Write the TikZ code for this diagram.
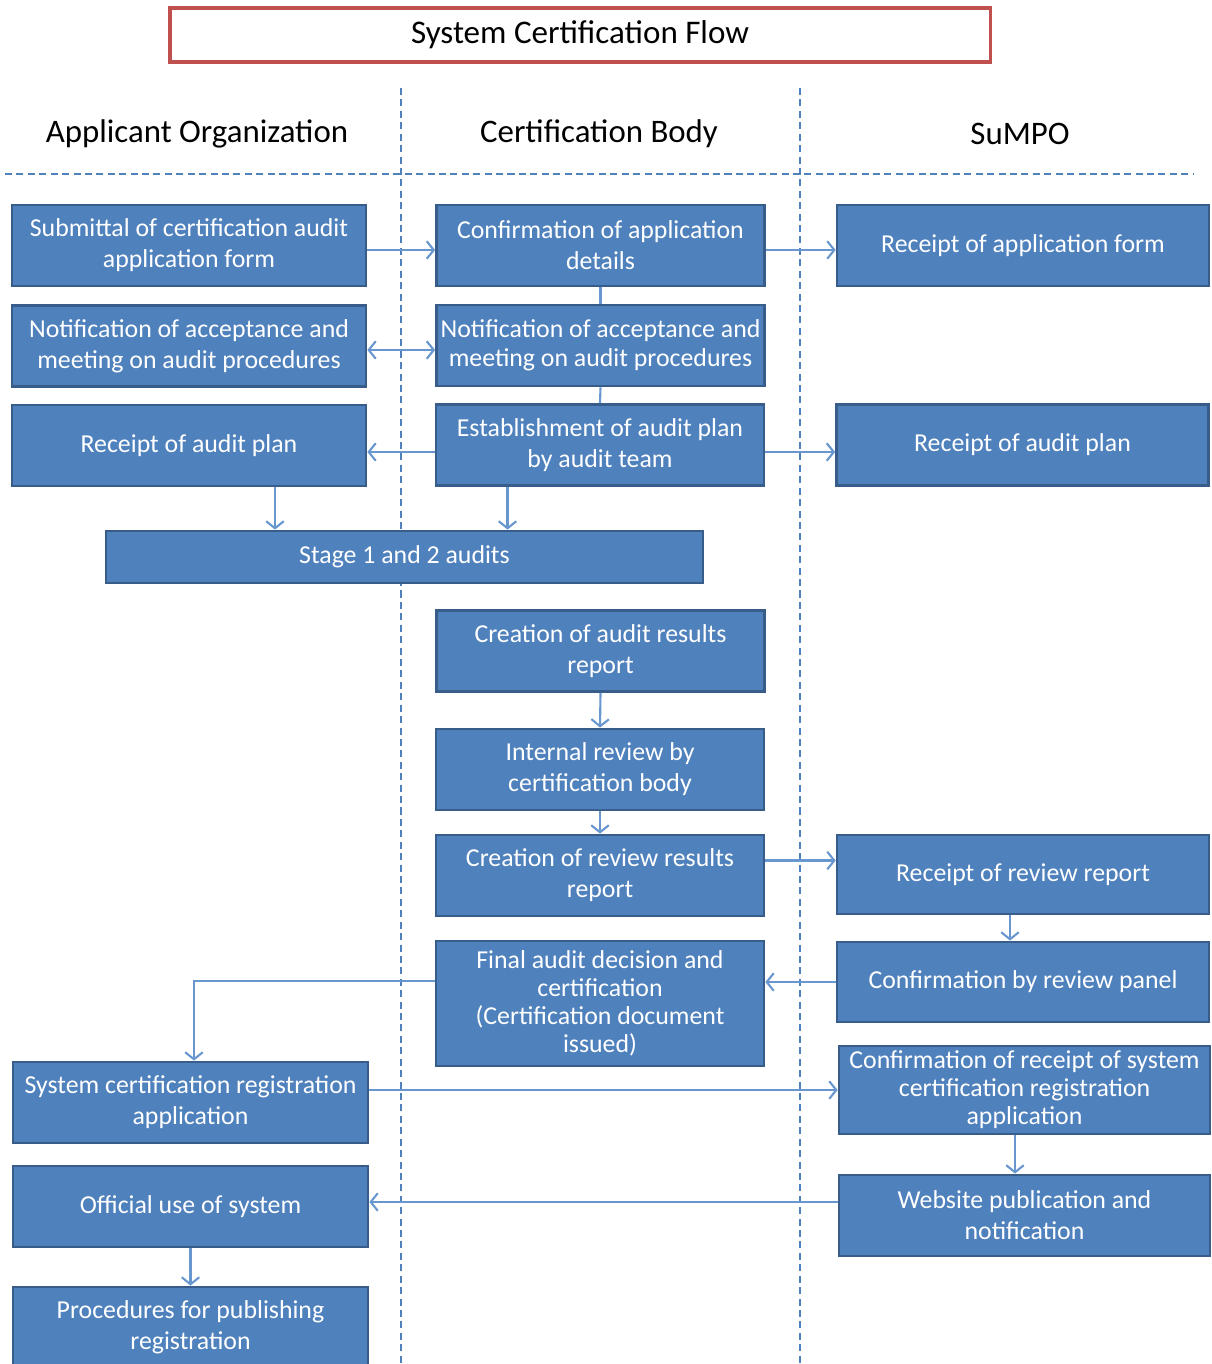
\documentclass[tikz,border=0pt]{standalone}
\usepackage{fontspec}
\setmainfont{Carlito}
\usetikzlibrary{arrows.meta}
\definecolor{boxblue}{RGB}{79,129,189}
\definecolor{boxedge}{RGB}{56,93,138}
\definecolor{linkblue}{RGB}{104,150,206}
\definecolor{titlered}{RGB}{192,80,77}
\begin{document}
\begin{tikzpicture}[x=0.02cm,y=-0.02cm,
    box/.style={draw=boxedge,fill=boxblue,line width=1.6pt,text=white,align=center,
        font=\fontsize{14.7}{17.6}\selectfont,inner sep=0pt,minimum height=1.62cm},
    tightbox/.style={box,font=\fontsize{14.7}{15.9}\selectfont},
    leftbox/.style={box,minimum width=7.08cm},
    midbox/.style={box,minimum width=6.56cm},
    rightbox/.style={box,minimum width=7.44cm},
    lane/.style={draw=boxblue,line width=1pt,dash pattern=on 4pt off 2.5pt},
    link/.style={draw=linkblue,line width=1.2pt,-{Straight Barb[length=4pt,width=10pt]}},
    twolink/.style={link,{Straight Barb[length=4pt,width=10pt]}-{Straight Barb[length=4pt,width=10pt]}},
    plain/.style={draw=linkblue,line width=1.2pt},
    lanehead/.style={font=\fontsize{18.7}{22}\selectfont}]
    \useasboundingbox (0,0) rectangle (1211,1364);
    % Title
    \node[draw=titlered,line width=2.2pt,minimum width=16.42cm,minimum height=1.08cm,
        font=\fontsize{18.8}{22}\selectfont] (title) at (580,35) {System Certification Flow};
    % Swimlanes
    \draw[lane] (401,88) -- (401,1364);
    \draw[lane] (800,88) -- (800,1364);
    \draw[lane] (5,174) -- (1193,174);
    \node[lanehead] (headorg) at (197,134) {Applicant Organization};
    \node[lanehead] (headcb) at (599,134) {Certification Body};
    \node[lanehead] (headsumpo) at (1020,134) {SuMPO};
    % Applicant organization
    \node[leftbox] (submit) at (189,245.5) {Submittal of certification audit\\application form};
    \node[leftbox] (notifyorg) at (189,346) {Notification of acceptance and\\meeting on audit procedures};
    \node[leftbox] (planorg) at (189,445.5) {Receipt of audit plan};
    \node[box,minimum width=11.94cm,minimum height=1.04cm] (stage) at (404.5,557) {Stage 1 and 2 audits};
    \node[leftbox,minimum width=7.1cm] (regapp) at (190.5,1102.5) {System certification registration\\application};
    \node[leftbox,minimum width=7.1cm] (use) at (190.5,1206.5) {Official use of system};
    \node[leftbox,minimum width=7.1cm] (publish) at (190.5,1327.5) {Procedures for publishing\\registration};
    % Certification body
    \node[midbox] (confirm) at (600.5,245.5) {Confirmation of application\\details};
    \node[midbox,font=\fontsize{14.7}{16.4}\selectfont] (notifycb) at (600.5,345.5) {Notification of acceptance and\\meeting on audit procedures};
    \node[midbox] (plancb) at (600,445) {Establishment of audit plan\\by audit team};
    \node[midbox] (results) at (600.5,651) {Creation of audit results\\report};
    \node[midbox] (internal) at (600,769.5) {Internal review by\\certification body};
    \node[midbox] (review) at (600,875.5) {Creation of review results\\report};
    \node[midbox,tightbox,minimum height=2.5cm] (decision) at (600,1003.5) {Final audit decision and\\certification\\(Certification document\\issued)};
    % SuMPO
    \node[rightbox] (formsumpo) at (1023,245.5) {Receipt of application form};
    \node[rightbox] (plansumpo) at (1022.5,445) {Receipt of audit plan};
    \node[rightbox,minimum height=1.58cm] (reviewsumpo) at (1023,874.5) {Receipt of review report};
    \node[rightbox,minimum height=1.6cm] (panel) at (1023,982) {Confirmation by review panel};
    \node[rightbox,tightbox,minimum width=7.42cm,minimum height=1.76cm] (regsumpo) at (1024.5,1090) {Confirmation of receipt of system\\certification registration\\application};
    \node[rightbox,minimum width=7.42cm] (website) at (1024.5,1215.5) {Website publication and\\notification};
    % Connectors
    \draw[link] ([yshift=-0.09cm]submit.east) -- ([yshift=-0.09cm]submit.east -| confirm.west);
    \draw[link] ([yshift=-0.09cm]confirm.east) -- ([yshift=-0.09cm]formsumpo.west);
    \draw[plain] (confirm.south) -- (notifycb.north);
    \draw[twolink] ([yshift=-0.08cm]notifyorg.east) -- ([yshift=-0.08cm]notifyorg.east -| notifycb.west);
    \draw[plain] (notifycb.south) -- (plancb.north);
    \draw[link] ([yshift=-0.14cm]plancb.west) -- ([yshift=-0.14cm]plancb.west -| planorg.east);
    \draw[link] ([yshift=-0.14cm]plancb.east) -- ([yshift=-0.14cm]plancb.east -| plansumpo.west);
    \draw[link] ([xshift=1.72cm]planorg.south) -- ([xshift=1.72cm]planorg.south |- stage.north);
    \draw[link] ([xshift=-1.85cm]plancb.south) -- ([xshift=-1.85cm]plancb.south |- stage.north);
    \draw[link] (results.south) -- (internal.north);
    \draw[link] (internal.south) -- (review.north);
    \draw[link] ([yshift=0.3cm]review.east) -- ([yshift=0.3cm]review.east -| reviewsumpo.west);
    \draw[link] ([xshift=-0.26cm]reviewsumpo.south) -- ([xshift=-0.26cm]panel.north);
    \draw[link] (panel.west) -- (panel.west -| decision.east);
    \draw[link] ([yshift=0.45cm]decision.west) -| ([xshift=0.07cm]regapp.north);
    \draw[link] (regapp.east |- regsumpo.west) -- (regsumpo.west);
    \draw[link] ([xshift=-0.19cm]regsumpo.south) -- ([xshift=-0.19cm]website.north);
    \draw[link] ([yshift=0.27cm]website.west) -- ([yshift=0.27cm]website.west -| use.east);
    \draw[link] (use.south) -- (publish.north);
\end{tikzpicture}
\end{document}
